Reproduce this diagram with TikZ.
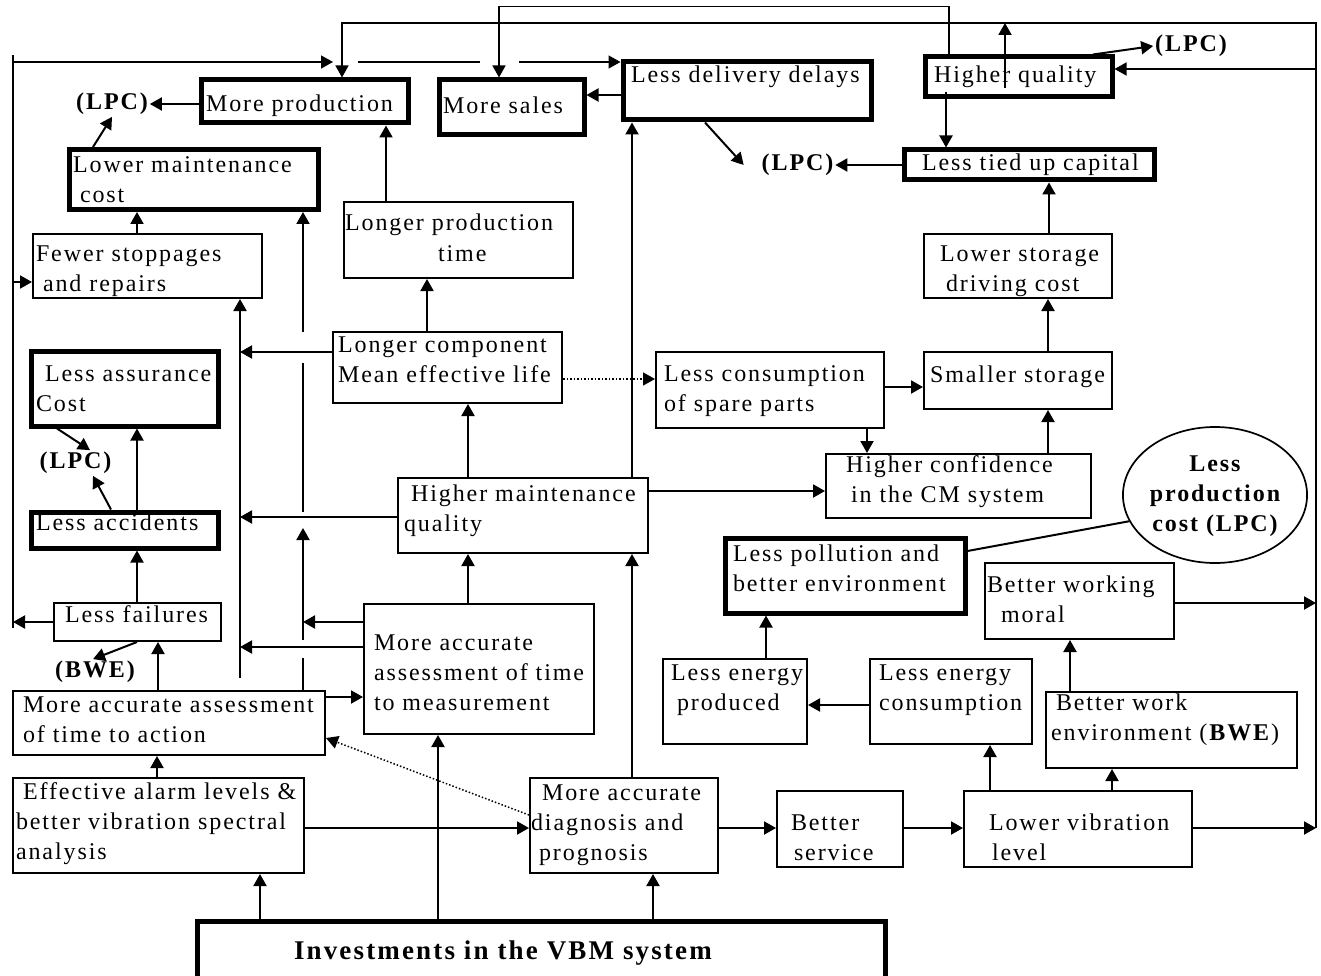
\documentclass[tikz,border=0pt]{standalone}
\usepackage{fontspec}
\setmainfont{Liberation Serif}[LetterSpace=8]
\usetikzlibrary{arrows.meta,shapes.geometric}
\newcommand{\bodysize}{\fontsize{24}{30}\selectfont}
% box text: width, indent, raise, lines
\newcommand{\bt}[4]{\makebox[#1pt][l]{\hspace*{#2pt}\raisebox{#3pt}[\height][\depth]{\begin{tabular}{@{}l@{}}#4\end{tabular}}}}
\tikzset{
  box/.style={draw, line width=2pt, inner sep=0pt},
  tbox/.style={draw, line width=5pt, inner sep=0pt},
  bx/.style 2 args={minimum width=#1pt, minimum height=#2pt},
  lpc/.style={inner sep=1pt, font=\bodysize\bfseries},
  arr/.style={line width=2pt, -{Triangle[length=12pt,width=13pt]}},
  dotarr/.style={line width=1.5pt, dotted, -{Triangle[length=12pt,width=13pt]}},
  bus/.style={line width=1.4pt},
  busarr/.style={line width=1.4pt, -{Triangle[length=12pt,width=13pt]}}
}
\begin{document}
\begin{tikzpicture}[x=1pt, y=-1pt, font=\bodysize, line width=2pt]
\useasboundingbox (0,0) rectangle (1321,976);

% thick boxes
\node[tbox, bx={207}{43}] (mpr) at (304.5,101.5) {\bt{207}{5}{-4}{More production}};
\node[tbox, bx={145}{55}] (msl) at (511.5,107.5) {\bt{145}{4}{0}{More sales}};
\node[tbox, bx={248}{58}] (ldd) at (747,91) {\bt{248}{8}{14}{Less delivery delays}};
\node[tbox, bx={187}{40}] (hqu) at (1018.5,77) {\bt{187}{9}{0}{Higher quality}};
\node[tbox, bx={249}{59}] (lmc) at (193.5,179.5) {\bt{249}{4}{-2}{Lower maintenance\\\hspace*{7pt}cost}};
\node[tbox, bx={250}{30}] (ltc) at (1029,165) {\bt{250}{18}{0}{Less tied up capital}};
\node[tbox, bx={187}{75}] (lac) at (124.5,388.5) {\bt{187}{5}{-2}{\hspace*{9pt}Less assurance\\Cost}};
\node[tbox, bx={187}{36}] (lax) at (124.5,530) {\bt{187}{5}{6}{Less accidents}};
\node[tbox, bx={240}{75}] (lpo) at (845,575.5) {\bt{240}{8}{5}{Less pollution and\\better environment}};
\node[tbox, bx={688}{64}, font=\fontsize{27}{33}\selectfont\bfseries] (inv) at (541,953) {\bt{688}{97}{0}{Investments in the VBM system}};

% thin boxes
\node[box, bx={229}{64}] (stop) at (147.5,266) {\bt{229}{3}{-5}{Fewer stoppages\\\hspace*{7pt}and repairs}};
\node[box, bx={229}{76}] (lpt) at (458.5,240) {\bt{229}{1}{0}{Longer production\\\hspace*{93pt}time}};
\node[box, bx={188}{64}] (lsd) at (1018,266) {\bt{188}{16}{-5}{Lower storage\\\hspace*{6pt}driving cost}};
\node[box, bx={229}{71}] (lcl) at (447.5,367.5) {\bt{229}{5}{6}{Longer component\\Mean effective life}};
\node[box, bx={228}{76}] (lcs) at (770,390) {\bt{228}{8}{0}{Less consumption\\of spare parts}};
\node[box, bx={188}{57}] (sst) at (1018,380.5) {\bt{188}{6}{4}{Smaller storage}};
\node[box, bx={265}{64}] (hcf) at (958.5,486) {\bt{265}{20}{5}{Higher confidence\\\hspace*{5pt}in the CM system}};
\node[box, bx={250}{75}] (hmq) at (523,515.5) {\bt{250}{6}{5}{\hspace*{7pt}Higher maintenance\\quality}};
\node[box, bx={167}{38}] (lfl) at (137.5,622) {\bt{167}{11}{6}{Less failures}};
\node[box, bx={189}{76}] (bwm) at (1079.5,601) {\bt{189}{2}{0}{Better working\\\hspace*{14pt}moral}};
\node[box, bx={230}{130}] (mtm) at (479,669) {\bt{230}{10}{-5}{More accurate\\assessment of time\\to measurement}};
\node[box, bx={144}{85}] (lep) at (735,701.5) {\bt{144}{8}{12}{Less energy\\\hspace*{6pt}produced}};
\node[box, bx={162}{85}] (lec) at (951,701.5) {\bt{162}{9}{12}{Less energy\\consumption}};
\node[box, bx={251}{76}] (bwe) at (1171.5,730) {\bt{251}{5}{11}{\hspace*{5pt}Better work\\environment (\textbf{BWE})}};
\node[box, bx={312}{64}] (mta) at (169,723) {\bt{312}{10}{2}{More accurate assessment\\of time to action}};
\node[box, bx={291}{95}] (eal) at (158.5,825.5) {\bt{291}{3}{2}{\hspace*{7pt}Effective alarm levels \&\\better vibration spectral\\analysis}};
\node[box, bx={188}{95}] (mad) at (624,825.5) {\bt{188}{1}{1}{\hspace*{11pt}More accurate\\diagnosis and\\\hspace*{8pt}prognosis}};
\node[box, bx={126}{76}] (bsv) at (840,829) {\bt{126}{14}{-10}{Better\\\hspace*{3pt}service}};
\node[box, bx={228}{76}] (lvl) at (1078,829) {\bt{228}{25}{-10}{Lower vibration\\\hspace*{3pt}level}};

\node[draw, ellipse, line width=1.7pt, inner sep=0pt, minimum width=164pt, minimum height=136pt, font=\bodysize\bfseries] (cost) at (1215,495)
  {\begin{tabular}{@{}c@{}}Less\\production\\cost (LPC)\end{tabular}};

\node[lpc] (lpcA) at (112,104) {(LPC)};
\node[lpc] (lpcB) at (797.5,165) {(LPC)};
\node[lpc] (lpcC) at (1191,46) {(LPC)};
\node[lpc] (lpcD) at (75.5,463) {(LPC)};
\node[lpc] (bweA) at (95,672) {(BWE)};

\coordinate (bl) at (13,55);
\coordinate (br) at (1316,23);
\coordinate (ta) at (240,678);
\coordinate (tb) at (303,689);

% buses
\draw[bus] (bl |- 0,628) -- (bl);
\draw[busarr] (bl |- 0,62) -- (333,62);
\draw[bus] (358,62) -- (480,62);
\draw[busarr] (519,62) -- (ldd.west |- 0,62);
\draw[arr] (bl |- 0,282) -- (stop.west |- 0,282);
\draw[arr] (lfl.west) -- (lfl.west -| bl);
\draw[busarr] (br |- 0,828) -- (br) -- (br -| 342,0) -- (mpr.north -| 342,0);
\draw[arr] (lvl.east |- 0,828) -- (br |- 0,828);
\draw[arr] (bwm.east |- 0,603) -- (br |- 0,603);
\draw[busarr] (br |- 0,69) -- (hqu.east |- 0,69);
\draw[busarr] (hqu.north -| 949,0) -- ++(0,-48) -| (msl.north -| 499,0);
\draw[arr] (hqu.center -| 1005,0) ++(0,11) -- (br -| 1005,0);
\draw[arr] (hqu.center -| 946,0) ++(0,15) -- (ltc.north -| 946,0);
\draw[arr] (hqu.north -| 1093,0) -- (lpcC.west);

% left part
\draw[arr] (mpr.west |- lpcA) -- (lpcA.east);
\draw[arr] (lmc.north -| 93,0) -- (lpcA.south);
\draw[arr] (stop.north -| 137,0) -- (lmc.south -| 137,0);
\draw[arr] (ta) -- (stop.south -| ta);
\draw (mta.north -| tb) -- (tb |- 0,658);
\draw[arr] (tb |- 0,640) -- (tb |- 0,528);
\draw[arr] (tb |- 0,512) -- (tb |- 0,363) (tb |- 0,332) -- (lmc.south -| tb);
\draw[arr] (lcl.west |- 0,352) -- (ta |- 0,352);
\draw[arr] (hmq.west |- 0,517) -- (ta |- 0,517);
\draw[arr] (mtm.west |- 0,647) -- (ta |- 0,647);
\draw[arr] (mtm.west |- 0,622) -- (tb |- 0,622);
\draw[arr] (lax.north -| 137,0) -- (lac.south -| 137,0);
\draw[arr] (lax.north -| 111,0) -- (lpcD.south -| 93,0);
\draw[arr] (lac.south -| 57,0) -- (lpcD.north -| 90,0);
\draw[arr] (lfl.north -| 137,0) -- (lax.south -| 137,0);
\draw[arr] (lfl.south -| 137,0) -- (bweA.north -| 93,0);
\draw[arr] (mta.north -| 158,0) -- (lfl.south -| 158,0);
\draw[arr] (eal.north -| 157,0) -- (mta.south -| 157,0);
\draw[arr] (mta.east |- 0,697) -- (mtm.west |- 0,697);
\draw[dotarr] (mad.west |- 0,815) -- (mta.east |- 0,738);
\draw[arr] (eal.east |- 0,828) -- (mad.west |- 0,828);
\draw[arr] (inv.north -| 260,0) -- (eal.south -| 260,0);
\draw[arr] (inv.north -| 438,0) -- (mtm.south -| 438,0);
\draw[arr] (inv.north -| 653,0) -- (mad.south -| 653,0);

% middle
\draw[arr] (lpt.north -| 386,0) -- (mpr.south -| 386,0);
\draw[arr] (lcl.north -| 427,0) -- (lpt.south -| 427,0);
\draw[arr] (hmq.north -| 468,0) -- (lcl.south -| 468,0);
\draw[arr] (mtm.north -| 468,0) -- (hmq.south -| 468,0);
\draw[arr] (hmq.north -| 632,0) -- (ldd.south -| 632,0);
\draw[arr] (mad.north -| 632,0) -- (hmq.south -| 632,0);
\draw[arr] (ldd.west |- 0,95) -- (msl.east |- 0,95);
\draw[arr] (ldd.south -| 705,0) -- ([xshift=-16pt]lpcB.west);
\draw[arr] (ltc.west) -- (lpcB.east);
\draw[dotarr] (lcl.east |- 0,379) -- (lcs.west |- 0,379);
\draw[arr] (hmq.east |- 0,491) -- (hcf.west |- 0,491);

% right part
\draw[arr] (lsd.north -| 1049,0) -- (ltc.south -| 1049,0);
\draw[arr] (sst.north -| 1048,0) -- (lsd.south -| 1048,0);
\draw[arr] (hcf.north -| 1048,0) -- (sst.south -| 1048,0);
\draw[arr] (lcs.east |- 0,387) -- (sst.west |- 0,387);
\draw[arr] (lcs.south -| 867,0) -- (hcf.north -| 867,0);
\draw (lpo.east |- 0,551) -- (cost.197);
\draw[arr] (mad.east |- 0,828) -- (bsv.west |- 0,828);
\draw[arr] (bsv.east |- 0,828) -- (lvl.west |- 0,828);
\draw[arr] (lvl.north -| 990,0) -- (lec.south -| 990,0);
\draw[arr] (lvl.north -| 1112,0) -- (bwe.south -| 1112,0);
\draw[arr] (bwe.north -| 1070,0) -- (bwm.south -| 1070,0);
\draw[arr] (lec.west |- 0,705) -- (lep.east |- 0,705);
\draw[arr] (lep.north -| 766,0) -- (lpo.south -| 766,0);
\end{tikzpicture}
\end{document}
